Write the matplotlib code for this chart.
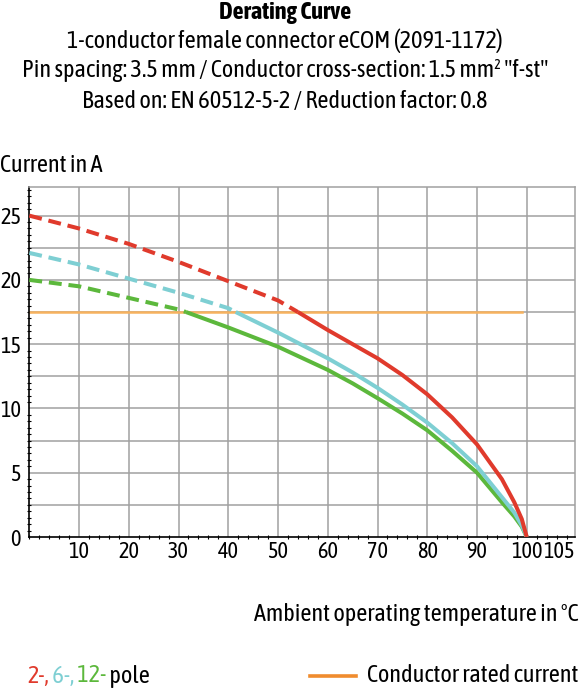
"""Derating curve for the 1-conductor female connector eCOM (2091-1172)."""

import matplotlib
matplotlib.use("Agg")
import matplotlib.pyplot as plt
import matplotlib.transforms as mtransforms
from matplotlib import font_manager
from matplotlib.ticker import MultipleLocator

# the reference uses a condensed sans; take one (with a bold face) if present
fonts = font_manager.fontManager.ttflist
narrow = sorted({f.name for f in fonts if "Narrow" in f.name or "Condensed" in f.name})
with_bold = {f.name for f in fonts if f.weight in (600, 700, "bold", "semibold")}
pick = [n for n in narrow if n in with_bold] or narrow
FONT = pick[0] if pick else "Liberation Sans"
plt.rcParams["font.family"] = [FONT, "DejaVu Sans"]

# values (temperature in degC, current in A)
RATED_CURRENT = 17.5
RATED_X = [0, 99]

red_dash_x = [0, 10, 20, 30, 40, 50, 54]
red_dash_y = [25.0, 24.0, 22.8, 21.4, 19.9, 18.4, 17.5]
red_x = [54, 60, 65, 70, 75, 80, 85, 90, 95, 97.5, 99, 100]
red_y = [17.5, 16.1, 15.0, 13.9, 12.6, 11.1, 9.3, 7.2, 4.5, 2.7, 1.4, 0.0]

cyan_dash_x = [0, 10, 20, 30, 40, 41.5]
cyan_dash_y = [22.1, 21.2, 20.1, 19.0, 17.8, 17.5]
cyan_x = [41.5, 50, 60, 65, 70, 75, 80, 85, 90, 95, 97.5, 99, 100]
cyan_y = [17.5, 15.9, 13.9, 12.8, 11.6, 10.3, 8.9, 7.3, 5.5, 3.1, 1.9, 0.9, 0.0]

green_dash_x = [0, 10, 20, 30, 31.5]
green_dash_y = [20.0, 19.5, 18.6, 17.7, 17.5]
green_x = [31.5, 40, 50, 60, 65, 70, 75, 80, 85, 90, 95, 97.5, 99, 100]
green_y = [17.5, 16.3, 14.8, 13.0, 11.95, 10.8, 9.6, 8.3, 6.7, 5.0, 2.7, 1.6, 0.8, 0.0]

x_ticks = [10, 20, 30, 40, 50, 60, 70, 80, 90, 100, 105]
y_ticks = [0, 5, 10, 15, 20, 25]

RED = "#e03a2c"
CYAN = "#7ecfd3"
GREEN = "#5cb83c"
ORANGE = "#f7b25e"
ORANGE_LEG = "#f08c2e"
GRID = "#a0a0a0"

FS = 17.5

W, H = 580, 689
fig = plt.figure(figsize=(W / 100, H / 100), dpi=100)
ax = fig.add_axes([29.3 / W, 1 - 537 / H, (575 - 29.3) / W, (537 - 186.7) / H])

ax.set_xlim(0, 109.7)
ax.set_ylim(0, 27.25)

for v in range(10, 101, 10):
    ax.axvline(v, color=GRID, lw=1.1, zorder=1)
for v in [2.5 * i for i in range(1, 11)]:
    ax.axhline(v, color=GRID, lw=1.1, zorder=1)

ax.plot(RATED_X, [RATED_CURRENT] * 2, color=ORANGE, lw=1.8, zorder=2)

dash = (3.2, 1.7)
for dx, dy, sx, sy, c in [
    (green_dash_x, green_dash_y, green_x, green_y, GREEN),
    (cyan_dash_x, cyan_dash_y, cyan_x, cyan_y, CYAN),
    (red_dash_x, red_dash_y, red_x, red_y, RED),
]:
    ax.plot(dx, dy, color=c, lw=2.9, dashes=dash, zorder=3)
    ax.plot(sx, sy, color=c, lw=2.9, zorder=3, solid_capstyle="butt")

for side in ("top", "right"):
    ax.spines[side].set_color(GRID)
    ax.spines[side].set_linewidth(1.1)
for side in ("left", "bottom"):
    ax.spines[side].set_color("black")
    ax.spines[side].set_linewidth(1.2)

ax.set_xticks(x_ticks)
ax.set_xticklabels([str(t) for t in x_ticks])
ax.set_yticks(y_ticks)
ax.set_yticklabels([str(t) for t in y_ticks])
ax.xaxis.set_minor_locator(MultipleLocator(2))
ax.yaxis.set_minor_locator(MultipleLocator(0.5))
ax.tick_params(which="major", length=0, labelsize=16)
ax.tick_params(axis="y", which="major", pad=6)
ax.tick_params(axis="x", which="major", pad=3)
ax.tick_params(which="minor", direction="inout", length=3, width=0.8, color="black")
# the "105" label sits a bit right of its nominal place in the reference
lbl = ax.get_xticklabels()[-1]
lbl.set_transform(lbl.get_transform() + mtransforms.ScaledTranslation(7 / 100, 0, fig.dpi_scale_trans))


def fy(y):
    return 1 - y / H


fig.text(285 / W, fy(12), "Derating Curve", ha="center", va="center",
         fontsize=FS, fontweight="bold")
fig.text(285 / W, fy(41), "1-conductor female connector eCOM (2091-1172)",
         ha="center", va="center", fontsize=FS)
fig.text(285 / W, fy(71), 'Pin spacing: 3.5 mm / Conductor cross-section: 1.5 mm² "f-st"',
         ha="center", va="center", fontsize=FS)
fig.text(285 / W, fy(101), "Based on: EN 60512-5-2 / Reduction factor: 0.8",
         ha="center", va="center", fontsize=FS)
fig.text(0 / W, fy(165), "Current in A", ha="left", va="center", fontsize=FS)
fig.text(578 / W, fy(614), "Ambient operating temperature in °C",
         ha="right", va="center", fontsize=FS)

# legend row
renderer = fig.canvas.get_renderer()
x_px = 27
for part, col in [("2-,", RED), (" 6-,", CYAN), (" 12-", GREEN), (" pole", "black")]:
    t = fig.text(x_px / W, fy(676), part, ha="left", va="center", fontsize=FS, color=col)
    x_px = t.get_window_extent(renderer).x1

fig.add_artist(plt.Line2D([310 / W, 356 / W], [fy(676)] * 2, color=ORANGE_LEG, lw=2.6))
fig.text(578 / W, fy(676), "Conductor rated current", ha="right", va="center", fontsize=FS)

fig.savefig("out.png", dpi=100)
